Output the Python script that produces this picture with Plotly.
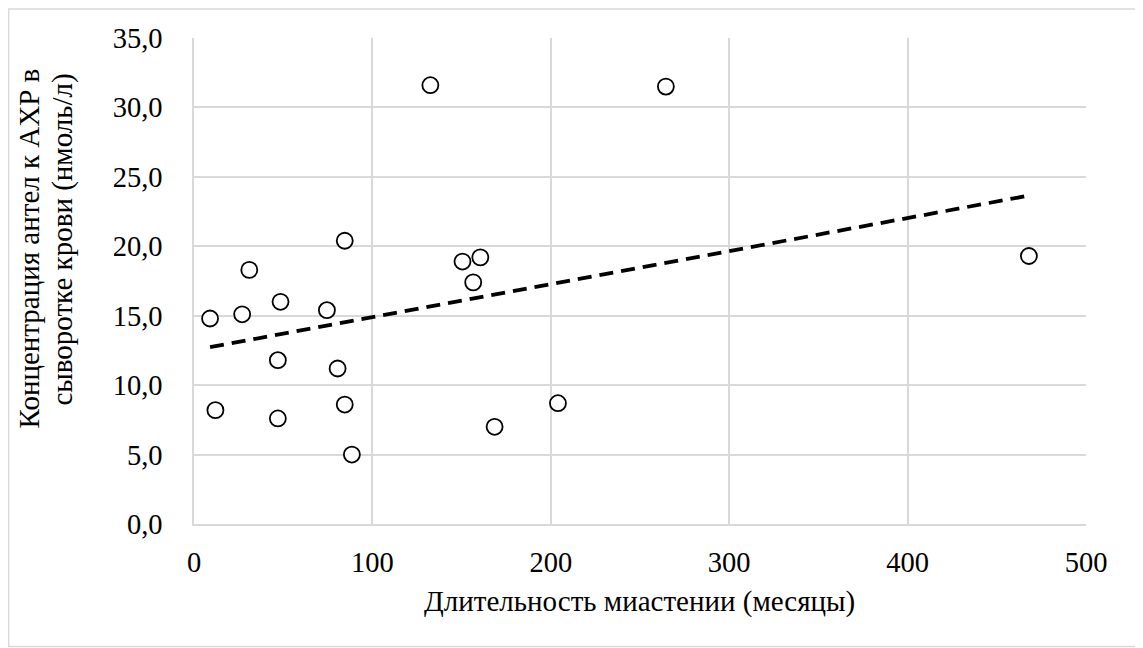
import numpy as np
import plotly.graph_objects as go

# Data
duration_months = [9, 12, 27, 31, 47, 47, 48.5, 74.5, 80.5, 84.5, 84.5, 88.5,
                   132.5, 150.5, 156.5, 160.5, 168.5, 204, 264.5, 468]
antibody_nmol = [14.8, 8.2, 15.1, 18.3, 11.8, 7.6, 16.0, 15.4, 11.2, 20.4, 8.6, 5.0,
                 31.6, 18.9, 17.4, 19.2, 7.0, 8.7, 31.5, 19.3]

x_title = "Длительность миастении (месяцы)"
y_title_lines = ["Концентрация антел к АХР в", "сыворотке крови (нмоль/л)"]
x_ticks = [0, 100, 200, 300, 400, 500]
y_ticks = [0, 5, 10, 15, 20, 25, 30, 35]

# Linear trendline (least squares) over the data range
slope, intercept = np.polyfit(duration_months, antibody_nmol, 1)
trend_x = [min(duration_months), max(duration_months)]
trend_y = [slope * v + intercept for v in trend_x]

FONT = "Liberation Serif"
GRID = "#d9d9d9"
TICK_SIZE = 28.5
TITLE_SIZE = 29

fig = go.Figure()
fig.add_trace(go.Scatter(
    x=trend_x, y=trend_y, mode="lines",
    line=dict(color="black", width=3.8, dash="14px,8px"),
    hoverinfo="skip", showlegend=False,
))
fig.add_trace(go.Scatter(
    x=duration_months, y=antibody_nmol, mode="markers",
    marker=dict(symbol="circle", size=16, color="white",
                line=dict(color="black", width=1.8)),
    showlegend=False,
))

OFF = 8  # page body margin
W, H = 1143, 648
L, R, T, B = 194.3 - OFF, 1086.0 - OFF, 38.0 - OFF, 524.3 - OFF
pw, ph = R - L, B - T

def sx(px):  # screen px -> paper x
    return (px - OFF - L) / pw

def sy(py):  # screen px -> paper y
    return (B - (py - OFF)) / ph

fig.update_layout(
    width=W, height=H,
    margin=dict(l=L, r=W - R, t=T, b=H - B, autoexpand=False),
    paper_bgcolor="white", plot_bgcolor="white",
    separators=", ",
    font=dict(family=FONT, size=TICK_SIZE, color="black"),
    xaxis=dict(
        range=[0, 500], tickvals=x_ticks, ticktext=[str(v) for v in x_ticks],
        showgrid=True, gridcolor=GRID, gridwidth=1.5,
        zeroline=False, showline=True, linecolor=GRID, linewidth=1.5,
        ticks="", ticklabelstandoff=12,
        tickfont=dict(family=FONT, size=TICK_SIZE, color="black"),
    ),
    yaxis=dict(
        range=[0, 35], tickvals=y_ticks, tickformat=".1f",
        showgrid=True, gridcolor=GRID, gridwidth=1.5,
        zeroline=False, showline=True, linecolor=GRID, linewidth=1.5,
        ticks="", ticklabelstandoff=24,
        tickfont=dict(family=FONT, size=TICK_SIZE, color="black"),
    ),
    shapes=[dict(
        type="rect", xref="paper", yref="paper",
        x0=sx(9), x1=sx(1137),
        y0=sy(647), y1=sy(9),
        line=dict(color=GRID, width=1.5), fillcolor="rgba(0,0,0,0)", layer="below",
    )],
    annotations=[
        dict(text=x_title, xref="paper", yref="paper",
             x=sx(640), y=sy(602),
             xanchor="center", yanchor="middle", showarrow=False,
             font=dict(family=FONT, size=TITLE_SIZE, color="black")),
        dict(text=y_title_lines[0], xref="paper", yref="paper", textangle=-90,
             x=sx(29), y=sy(249),
             xanchor="center", yanchor="middle", showarrow=False,
             font=dict(family=FONT, size=TITLE_SIZE, color="black")),
        dict(text=y_title_lines[1], xref="paper", yref="paper", textangle=-90,
             x=sx(63), y=sy(240),
             xanchor="center", yanchor="middle", showarrow=False,
             font=dict(family=FONT, size=TITLE_SIZE, color="black")),
    ],
)

fig.write_html("out.html")
